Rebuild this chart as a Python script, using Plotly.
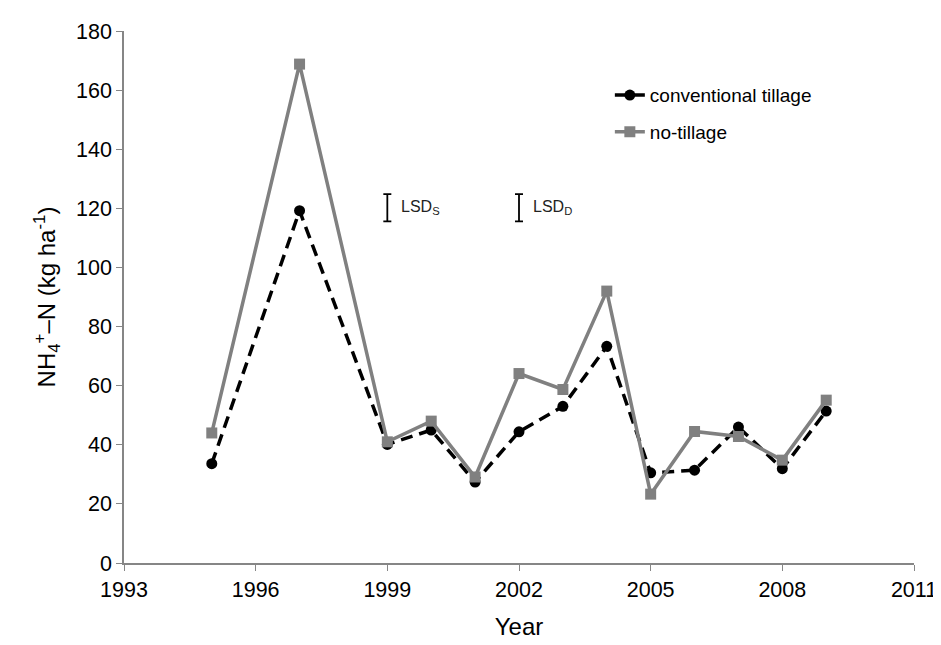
import plotly.graph_objects as go

years = [1995, 1997, 1999, 2000, 2001, 2002, 2003, 2004, 2005, 2006, 2007, 2008, 2009]
conventional = [33.6, 119.2, 40.1, 45.0, 27.4, 44.4, 53.0, 73.3, 30.5, 31.4, 46.0, 31.9, 51.4]
no_tillage = [44.0, 168.8, 41.0, 48.0, 29.1, 64.1, 58.7, 92.0, 23.3, 44.5, 42.8, 34.8, 55.1]

lsd_years = [1999, 2002]
lsd_center = [120.2, 120.2]
lsd_half = [4.6, 4.6]
lsd_labels = ["LSD<sub>S</sub>", "LSD<sub>D</sub>"]

FONT = "Arial, 'Liberation Sans', sans-serif"
AX = "#868686"

fig = go.Figure()
fig.add_trace(go.Scatter(
    x=years, y=conventional, name="conventional tillage", mode="lines+markers",
    legendgroup="a",
    line=dict(color="black", width=3.5, dash="12px,7px"),
    marker=dict(symbol="circle", size=11, color="black"),
))
fig.add_trace(go.Scatter(
    x=years, y=no_tillage, name="no-tillage", mode="lines+markers",
    legendgroup="b",
    line=dict(color="#808080", width=3.5),
    marker=dict(symbol="square", size=11, color="#808080"),
))
fig.add_trace(go.Scatter(
    x=lsd_years, y=lsd_center, mode="markers", showlegend=False, hoverinfo="skip",
    marker=dict(size=1, color="rgba(0,0,0,0)"),
    error_y=dict(type="data", array=lsd_half, symmetric=True, color="black", thickness=1.8, width=4),
))
for xv, yv, t in zip(lsd_years, lsd_center, lsd_labels):
    fig.add_annotation(x=xv, y=yv, text=t, showarrow=False, xanchor="left", xshift=12,
                       font=dict(family=FONT, size=16, color="#222"))

fig.update_layout(
    width=941, height=645,
    margin=dict(l=116, r=33, t=22, b=90),
    paper_bgcolor="white", plot_bgcolor="white",
    font=dict(family=FONT, size=21, color="black"),
    legend=dict(x=0.615, y=0.915, xanchor="left", yanchor="top", bgcolor="rgba(0,0,0,0)",
                font=dict(family=FONT, size=19, color="black"), itemwidth=30,
                tracegroupgap=9),
    xaxis=dict(range=[1993, 2011], tickmode="array", tickvals=[1993, 1996, 1999, 2002, 2005, 2008, 2011],
               showgrid=False, zeroline=False, showline=True, linecolor=AX, linewidth=1.5,
               ticks="outside", tickcolor=AX, ticklen=6, tickwidth=1,
               tickfont=dict(family=FONT, size=21.5, color="black"),
               title=dict(text="Year", font=dict(family=FONT, size=24), standoff=18)),
    yaxis=dict(range=[0, 180], dtick=20, showgrid=False, zeroline=False, showline=True,
               linecolor=AX, linewidth=1.5, ticks="outside", tickcolor=AX, ticklen=6, tickwidth=1,
               tickfont=dict(family=FONT, size=21.5, color="black"),
               title=dict(text="NH<sub>4</sub><sup>+</sup>–N (kg ha<sup>-1</sup>)",
                          font=dict(family=FONT, size=24), standoff=14)),
)

fig.write_html("out.html")
